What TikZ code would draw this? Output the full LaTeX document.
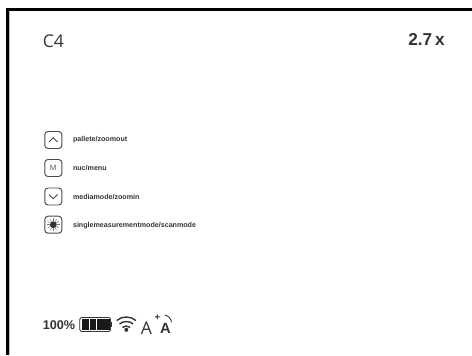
\documentclass[tikz,border=0pt]{standalone}
\usepackage{fontspec}
\setmainfont{Liberation Sans}
\newfontfamily\lightfont{Open Sans}
\usepackage{xcolor}
\usetikzlibrary{calc}
\definecolor{inkgray}{HTML}{333333}
\definecolor{keygray}{HTML}{4A4A4A}
\tikzset{
    keybox/.style={draw=keygray, line width=0.55pt, rounded corners=1.8pt, minimum width=0.34cm, minimum height=0.34cm, inner sep=0pt, font=\lightfont\fontsize{4.2}{5}\selectfont, text=keygray},
    keylabel/.style={anchor=west, inner sep=0pt, text=inkgray, font=\bfseries\fontsize{4.05}{5}\selectfont},
    icon/.style={color=inkgray, line width=0.55pt}
}
\begin{document}
\begin{tikzpicture}[x=0.02cm,y=-0.02cm]
    \useasboundingbox (0,0) rectangle (472,355);
    % frame
    \fill [black] (6,8) rectangle (472,10.5);
    \fill [black] (6,8) rectangle (9,355);
    \fill [black!25] (9,10.5) rectangle (9.8,355);

    % header
    \node [anchor=west, inner sep=0pt, text=inkgray, font=\lightfont\fontsize{10}{12}\selectfont] (title) at (42.5,41.5) {C4};
    \node [anchor=east, inner sep=0pt, text=inkgray, font=\bfseries\fontsize{9.8}{12}\selectfont] (zoomlevel) at (445,39) {2.7\,x};

    % keys
    \node [keybox] (keyup) at (53.3,140) {};
    \node [keybox] (keymenu) at (53.3,168) {M};
    \node [keybox] (keydown) at (53.3,196.5) {};
    \node [keybox] (keylaser) at (53.3,224.7) {};
    \draw [keygray, line width=0.5pt] (49,142) -- (53.3,137.8) -- (57.6,142);
    \draw [keygray, line width=0.5pt] (49,194.5) -- (53.3,198.7) -- (57.6,194.5);
    \fill [inkgray] (keylaser.center) circle (3.4);
    \foreach \a in {0,30,...,330}
        \draw [keygray!70, line width=0.3pt] ($(keylaser.center)+(\a:3.5)$) -- ($(keylaser.center)+(\a:6.5)$);

    % labels
    \node [keylabel] (labelup) at (72.7,140) {pallete/zoomout};
    \node [keylabel] (labelmenu) at (72.7,168) {nuc/menu};
    \node [keylabel] (labeldown) at (72.7,197) {mediamode/zoomin};
    \node [keylabel] (labellaser) at (72.7,225.2) {singlemeasurementmode/scanmode};

    % status line
    \node [anchor=west, inner sep=0pt, text=inkgray, font=\bfseries\fontsize{7.2}{8}\selectfont] (charge) at (42.5,325.5) {100\%};
    \draw [icon, rounded corners=1.2pt, line width=0.5pt] (79.8,317.5) rectangle (110.5,331.5);
    \fill [inkgray] (110.8,322) rectangle (112.3,327);
    \foreach \x in {82,89.5,97,103.5}
        \fill [black!90] (\x,319.3) rectangle ++(6.6,10.4);
    % wifi
    \fill [inkgray] (126.3,329.8) circle (2);
    \foreach \r in {6,10.5,15}
        \draw [icon, line width=0.8pt] (126.3,332) ++(-50:\r) arc [start angle=-50, end angle=-130, radius=\r];
    % letters
    \node [anchor=base, inner sep=0pt, text=inkgray, font=\lightfont\fontsize{10}{12}\selectfont] (fontsmall) at (146.5,334) {A};
    \node [anchor=base, inner sep=0pt, text=inkgray, font=\bfseries\fontsize{8.4}{10}\selectfont] (fontbold) at (165.5,333.5) {A};
    \node [anchor=center, inner sep=0pt, text=inkgray, font=\bfseries\fontsize{5.5}{6}\selectfont] (fontplus) at (157.5,317.5) {+};
    \draw [icon, line width=0.5pt] (163.5,323) ++(-80:8) arc [start angle=-80, end angle=-5, radius=8];
\end{tikzpicture}
\end{document}
